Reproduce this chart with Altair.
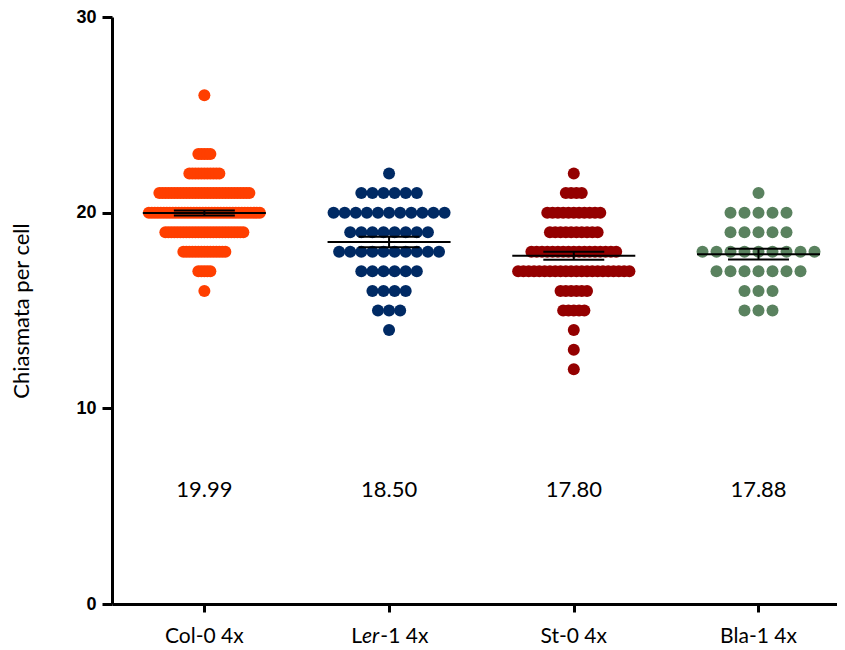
import altair as alt
import pandas as pd
import numpy as np

categories = ["Col-0 4x", "Ler-1 4x", "St-0 4x", "Bla-1 4x"]
ler_parts = ["L", "er", "-1 4x"]
colors = ["#FF3F00", "#002A64", "#940000", "#5A825F"]
mean_labels = ["19.99", "18.50", "17.80", "17.88"]

# chiasma count (row value) and number of cells with that count, per line
col0_values = [26, 23, 22, 21, 20, 19, 18, 17, 16]
col0_counts = [1, 5, 11, 31, 38, 27, 15, 5, 1]
ler1_values = [22, 21, 20, 19, 18, 17, 16, 15, 14]
ler1_counts = [1, 6, 11, 8, 10, 6, 4, 3, 1]
st0_values = [22, 21, 20, 19, 18, 17, 16, 15, 14, 13, 12]
st0_counts = [1, 4, 11, 10, 17, 22, 6, 5, 1, 1, 1]
bla1_values = [21, 20, 19, 18, 17, 16, 15]
bla1_counts = [1, 5, 5, 9, 7, 3, 3]

groups_values = [col0_values, ler1_values, st0_values, bla1_values]
groups_counts = [col0_counts, ler1_counts, st0_counts, bla1_counts]
dot_spacing_px = [3.0, 11.1, 5.3, 14.0]

W, H = 725, 587
X_DOMAIN = [-0.5, 3.425]
px_per_unit = W / (X_DOMAIN[1] - X_DOMAIN[0])

rows = []
stats = []
for gi, (cat, vals, cnts, sp) in enumerate(zip(categories, groups_values, groups_counts, dot_spacing_px)):
    allv = []
    for v, n in zip(vals, cnts):
        for i in range(n):
            off = (i - (n - 1) / 2.0) * sp / px_per_unit
            rows.append({"group": cat, "gi": gi, "value": v, "xpos": gi + off})
            allv.append(v)
    arr = np.array(allv, dtype=float)
    m = arr.mean()
    sem = arr.std(ddof=1) / np.sqrt(len(arr))
    stats.append({"group": cat, "gi": gi, "mean": m, "lo": m - sem, "hi": m + sem,
                  "m_lo": gi - 0.333, "m_hi": gi + 0.333,
                  "c_lo": gi - 0.165, "c_hi": gi + 0.165,
                  "label": mean_labels[gi]})

pts = pd.DataFrame(rows)
st = pd.DataFrame(stats)

xscale = alt.Scale(domain=X_DOMAIN, nice=False, zero=False)
yscale = alt.Scale(domain=[0, 30], nice=False)

points = alt.Chart(pts).mark_circle(size=144, opacity=1).encode(
    x=alt.X("xpos:Q", scale=xscale,
            axis=alt.Axis(values=[0, 1, 2, 3], labels=False, title=None, tickSize=8,
                          tickWidth=3, domainWidth=3, grid=False,
                          tickColor="black", domainColor="black")),
    y=alt.Y("value:Q", scale=yscale,
            axis=alt.Axis(values=[0, 10, 20, 30], title="Chiasmata per cell",
                          tickSize=10, tickWidth=3, domainWidth=3, grid=False,
                          tickColor="black", domainColor="black",
                          labelFont="Liberation Sans", labelFontWeight="bold",
                          labelFontSize=18, labelColor="black", labelPadding=6,
                          titleFont="Lato", titleFontSize=22, titleFontWeight="normal",
                          titleColor="black", titlePadding=42)),
    color=alt.Color("group:N", scale=alt.Scale(domain=categories, range=colors), legend=None),
)

base = alt.Chart(st)
mean_line = base.mark_rule(color="black", strokeWidth=2).encode(
    x=alt.X("m_lo:Q", scale=xscale), x2="m_hi:Q", y=alt.Y("mean:Q", scale=yscale))
cap_lo = base.mark_rule(color="black", strokeWidth=2).encode(
    x=alt.X("c_lo:Q", scale=xscale), x2="c_hi:Q", y=alt.Y("lo:Q", scale=yscale))
cap_hi = base.mark_rule(color="black", strokeWidth=2).encode(
    x=alt.X("c_lo:Q", scale=xscale), x2="c_hi:Q", y=alt.Y("hi:Q", scale=yscale))
whisker = base.mark_rule(color="black", strokeWidth=2).encode(
    x=alt.X("gi:Q", scale=xscale), y=alt.Y("lo:Q", scale=yscale), y2="hi:Q")

mean_text = base.mark_text(font="Lato", fontSize=22, baseline="middle", color="black").encode(
    x=alt.X("gi:Q", scale=xscale), y=alt.datum(5.85), text="label:N")

LBL_Y = H + 39
LBL_FS = 21
cat_df = pd.DataFrame({"gi": list(range(len(categories))), "cat": categories})
plain_labels = alt.Chart(cat_df).transform_filter("datum.gi != 1").mark_text(
    font="Lato", fontSize=LBL_FS, baseline="alphabetic", align="center", color="black").encode(
    x=alt.X("gi:Q", scale=xscale), y=alt.value(LBL_Y), text="cat:N")

ler_df = pd.DataFrame({"gi": [1], "p0": [ler_parts[0]], "p1": [ler_parts[1]], "p2": [ler_parts[2]]})
ler_a = alt.Chart(ler_df).mark_text(font="Lato", fontSize=LBL_FS, baseline="alphabetic",
                                    align="right", dx=-27.1, color="black").encode(
    x=alt.X("gi:Q", scale=xscale), y=alt.value(LBL_Y), text="p0:N")
ler_b = alt.Chart(ler_df).mark_text(font="Lato", fontSize=LBL_FS, baseline="alphabetic",
                                    align="left", dx=-27.1, fontStyle="italic", color="black").encode(
    x=alt.X("gi:Q", scale=xscale), y=alt.value(LBL_Y), text="p1:N")
ler_c = alt.Chart(ler_df).mark_text(font="Lato", fontSize=LBL_FS, baseline="alphabetic",
                                    align="left", dx=-8.7, color="black").encode(
    x=alt.X("gi:Q", scale=xscale), y=alt.value(LBL_Y), text="p2:N")

chart = alt.layer(points, mean_line, cap_lo, cap_hi, whisker, mean_text,
                  plain_labels, ler_a, ler_b, ler_c).properties(
    width=W, height=H,
    autosize=alt.AutoSizeParams(type="none"),
    padding={"left": 104, "top": 9, "right": 0, "bottom": 44},
).configure_view(strokeWidth=0)

chart.save("out.html", embed_options={"renderer": "svg", "actions": False})
